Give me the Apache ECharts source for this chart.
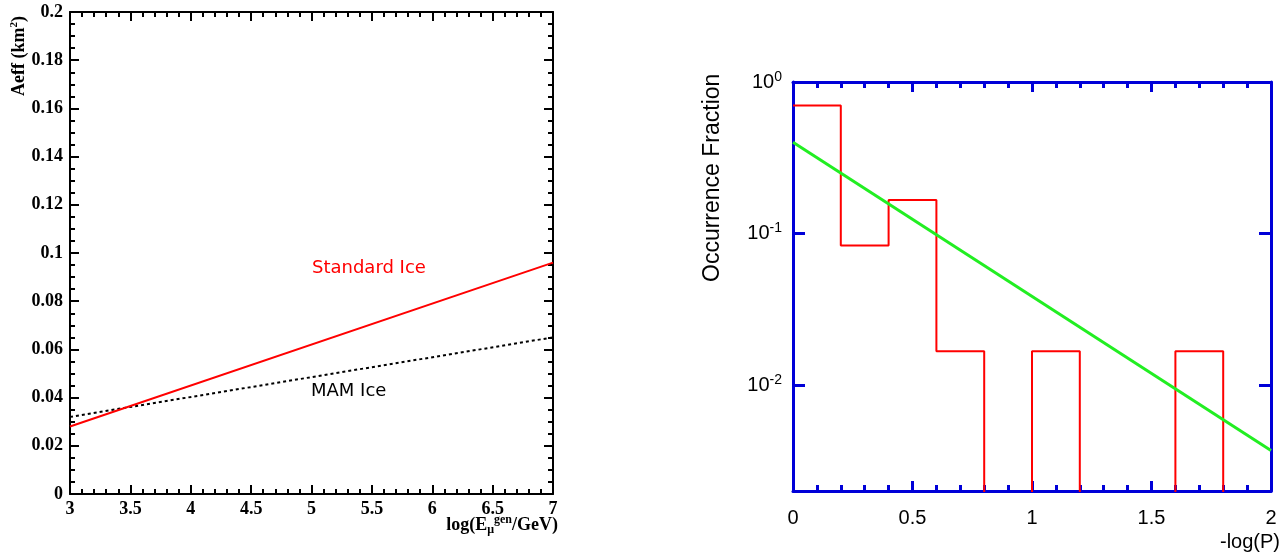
<!DOCTYPE html>
<html><head><meta charset="utf-8">
<script src="https://cdn.jsdelivr.net/npm/echarts@6/dist/echarts.min.js"></script>
<style>html,body{margin:0;padding:0;background:#fff}#c{width:1286px;height:554px}</style>
</head><body><div id="c"></div>
<script>
// ---- Left panel data ----
const aeffX = [3, 7];
const standardIce = [0.028, 0.096];
const mamIce = [0.032, 0.065];
// ---- Right panel data ----
const binEdges = [0, 0.2, 0.4, 0.6, 0.8, 1.0, 1.2, 1.4, 1.6, 1.8, 2.0];
const binFractions = [0.70, 0.0833, 0.1667, 0.0167, 0, 0.0167, 0, 0, 0.0167, 0];
const fitX = [0, 2];
const fitY = [0.40, 0.0037];

const EMPTY_FLOOR = 1e-5; // empty bins drawn down to (and clipped at) the frame
const histPts = [];
for (let i = 0; i < binFractions.length; i++) {
  const v = binFractions[i] > 0 ? binFractions[i] : EMPTY_FLOOR;
  histPts.push([binEdges[i], v], [binEdges[i + 1], v]);
}

const serif = 'Liberation Serif';
const sans = 'Liberation Sans';
const BLUE = '#0000d8';

const leftTickLbl = { fontFamily: serif, fontWeight: 'bold', fontSize: 18, color: '#000' };
function leftX(pos, show) {
  return {
    type: 'value', gridIndex: 0, position: pos, min: 3, max: 7, interval: 0.5,
    axisLine: { show: true, onZero: false, lineStyle: { color: '#000', width: 2 } },
    axisTick: { show: true, inside: true, length: 9, lineStyle: { color: '#000', width: 2 } },
    minorTick: { show: true, splitNumber: 5, length: 5, lineStyle: { color: '#000', width: 2 } },
    splitLine: { show: false },
    axisLabel: Object.assign({ show: show, margin: 6 }, leftTickLbl)
  };
}
function leftY(pos, show) {
  return {
    type: 'value', gridIndex: 0, position: pos, min: 0, max: 0.2, interval: 0.02,
    axisLine: { show: true, onZero: false, lineStyle: { color: '#000', width: 2 } },
    axisTick: { show: true, inside: true, length: 9, lineStyle: { color: '#000', width: 2 } },
    minorTick: { show: true, splitNumber: 4, length: 5, lineStyle: { color: '#000', width: 2 } },
    splitLine: { show: false },
    axisLabel: Object.assign({ show: show, margin: 7 }, leftTickLbl)
  };
}
function rightX(pos, show) {
  return {
    type: 'value', gridIndex: 1, position: pos, min: 0, max: 2, interval: 0.5,
    axisLine: { show: true, onZero: false, lineStyle: { color: BLUE, width: 3 } },
    axisTick: { show: true, inside: true, length: 10, lineStyle: { color: BLUE, width: 3 } },
    minorTick: { show: true, splitNumber: 5, length: 6, lineStyle: { color: BLUE, width: 3 } },
    splitLine: { show: false },
    axisLabel: { show: show, margin: 17, fontFamily: sans, fontSize: 20, color: '#000',
      formatter: v => String(v) }
  };
}
function supLabel(v) {
  const e = Math.log10(v);
  const r = Math.round(e);
  if (Math.abs(e - r) > 1e-6) return '';
  return '{b|10}{s|' + r + '}';
}
function rightY(pos, show) {
  return {
    type: 'log', logBase: 10, gridIndex: 1, position: pos, min: 0.002, max: 1,
    axisLine: { show: true, onZero: false, lineStyle: { color: BLUE, width: 3 } },
    axisTick: { show: true, inside: true, length: 12, lineStyle: { color: BLUE, width: 3 } },
    minorTick: { show: false },
    splitLine: { show: false },
    axisLabel: { show: show, margin: 11, formatter: supLabel,
      rich: { b: { fontFamily: sans, fontSize: 20, color: '#000', lineHeight: 24 },
              s: { fontFamily: sans, fontSize: 14, color: '#000', verticalAlign: 'top', lineHeight: 14 } } }
  };
}

const chart = echarts.init(document.getElementById('c'), null, { renderer: 'canvas' });
chart.setOption({
  animation: false,
  backgroundColor: '#fff',
  grid: [
    { left: 70, right: 733, top: 12, bottom: 60 },
    { left: 793, right: 15, top: 82, bottom: 63 }
  ],
  xAxis: [leftX('bottom', true), leftX('top', false), rightX('bottom', true), rightX('top', false)],
  yAxis: [leftY('left', true), leftY('right', false), rightY('left', true), rightY('right', false)],
  series: [
    { type: 'line', xAxisIndex: 0, yAxisIndex: 0, data: aeffX.map((x, i) => [x, standardIce[i]]),
      showSymbol: false, lineStyle: { color: '#ff0000', width: 2 }, z: 3 },
    { type: 'line', xAxisIndex: 0, yAxisIndex: 0, data: aeffX.map((x, i) => [x, mamIce[i]]),
      showSymbol: false, lineStyle: { color: '#000', width: 2, type: [3, 3] }, z: 2 },
    { type: 'line', xAxisIndex: 2, yAxisIndex: 2, data: histPts, clip: true,
      showSymbol: false, lineStyle: { color: '#ff0000', width: 2 }, z: 2 },
    { type: 'line', xAxisIndex: 2, yAxisIndex: 2, data: fitX.map((x, i) => [x, fitY[i]]), clip: true,
      showSymbol: false, lineStyle: { color: '#22ee22', width: 3 }, z: 3 }
  ],
  graphic: [
    { type: 'text', left: 312, top: 259, style: { text: 'Standard Ice', fill: '#ff0000',
      font: '18px "DejaVu Sans"' } },
    { type: 'text', left: 311, top: 382, style: { text: 'MAM Ice', fill: '#000',
      font: '18px "DejaVu Sans"' } },
    { type: 'text', x: 9, y: 96, rotation: Math.PI / 2, style: {
      rich: { n: { fontFamily: serif, fontWeight: 'bold', fontSize: 18, fill: '#000', lineHeight: 20 },
              s: { fontFamily: serif, fontWeight: 'bold', fontSize: 11, fill: '#000', verticalAlign: 'top', lineHeight: 12 } },
      text: '{n|Aeff (km}{s|2}{n|)}' } },
    { type: 'text', right: 728, top: 514, style: { rich: {
        n: { fontFamily: serif, fontWeight: 'bold', fontSize: 18, fill: '#000', lineHeight: 22 },
        sub: { fontFamily: serif, fontWeight: 'bold', fontSize: 12, fill: '#000', verticalAlign: 'bottom', lineHeight: 10 },
        sup: { fontFamily: serif, fontWeight: 'bold', fontSize: 12, fill: '#000', verticalAlign: 'top', lineHeight: 18 } },
      text: '{n|log(E}{sub|μ}{sup|gen}{n|/GeV)}' } },
    { type: 'text', x: 701, y: 282, rotation: Math.PI / 2, style: { text: 'Occurrence Fraction', fill: '#000',
      font: '23px "Liberation Sans"' } },
    { type: 'text', right: 6, top: 532, style: { text: '-log(P)', fill: '#000',
      font: '20px "Liberation Sans"' } }
  ]
});
</script></body></html>
